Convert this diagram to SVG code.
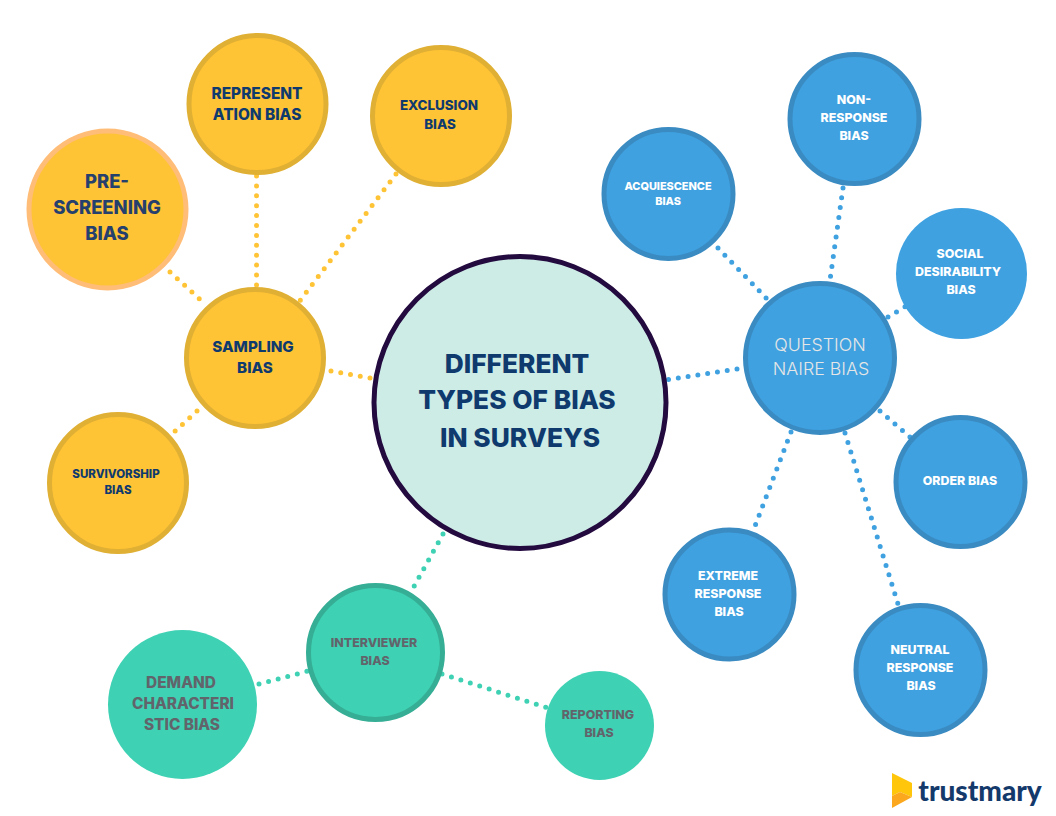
<svg xmlns="http://www.w3.org/2000/svg" width="1056" height="816" viewBox="0 0 1056 816">
<style>
text{font-family:Inter,"Liberation Sans",sans-serif;font-weight:800;text-anchor:middle}
.c{fill:none;stroke-width:5;stroke-linecap:round;stroke-dasharray:0 9.9}
.y{stroke:#FFC336}.b{stroke:#3FA1E0}.g{stroke:#3FD1B3}
.yn{fill:#FFC336;stroke:#E0B034;stroke-width:5}
.bn{fill:#3FA1E0;stroke:#3A8BC2;stroke-width:5}
.gn{fill:#3FD1B3;stroke:#35AE95;stroke-width:5}
.n{fill:#0F3A6E}.w{fill:#fff}.d{fill:#62646B}
</style>
<rect width="1056" height="816" fill="#fff"/>
<g id="connectors">
<path class="c y" d="M331 371L376 379"/>
<path class="c y" d="M256.500 176V290"/>
<path class="c y" d="M396 174L299 302"/>
<path class="c y" d="M170 272L205 304"/>
<path class="c y" d="M197 411L172 434"/>
<path class="c b" d="M737 369L666 380"/>
<path class="c b" d="M718 248L770 302"/>
<path class="c b" d="M843 188L830 280"/>
<path class="c b" d="M888 317L908 305"/>
<path class="c b" d="M880 411L910 437"/>
<path class="c b" d="M791 432L755 526"/>
<path class="c b" d="M845 433L898 604"/>
<path class="c g" d="M443 534L412 590"/>
<path class="c g" d="M259 684L312 670"/>
<path class="c g" d="M442 674L548 708"/>
</g>
<g id="center"><circle cx="520" cy="402.500" r="146" fill="#CDECE6" stroke="#230A3F" stroke-width="5"/>
<text class="n" font-size="26.300" x="517" y="373">DIFFERENT</text><text class="n" font-size="26.300" x="517" y="409">TYPES OF BIAS</text><text class="n" font-size="26.300" x="520" y="447">IN SURVEYS</text></g>
<g id="sampling"><circle class="yn" cx="255" cy="358" r="68.500"/><text class="n" font-size="15.200" x="253" y="352">SAMPLING</text><text class="n" font-size="15.200" x="255" y="373">BIAS</text></g>
<g id="prescreening"><circle cx="107.500" cy="209.500" r="78.500" fill="#FFC336" stroke="#FFBD78" stroke-width="5"/><text font-size="18.400" fill="#26406E" x="107" y="188">PRE-</text><text font-size="18.400" fill="#26406E" x="107" y="214">SCREENING</text><text font-size="18.400" fill="#26406E" x="107" y="240">BIAS</text></g>
<g id="representation"><circle class="yn" cx="257.500" cy="104" r="68.500"/><text class="n" font-size="15.400" x="257" y="99">REPRESENT</text><text class="n" font-size="15.400" x="257" y="120">ATION BIAS</text></g>
<g id="exclusion"><circle class="yn" cx="441" cy="116" r="68.500"/><text class="n" font-size="13.400" x="439" y="110">EXCLUSION</text><text class="n" font-size="13.400" x="440" y="129">BIAS</text></g>
<g id="survivorship"><circle class="yn" cx="118" cy="483" r="68.500"/><text class="n" font-size="11.500" x="116" y="478">SURVIVORSHIP</text><text class="n" font-size="11.500" x="118" y="494">BIAS</text></g>
<g id="questionnaire"><circle class="bn" cx="820" cy="358" r="74.500"/><text font-size="17.800" fill="#E6E6E6" style="font-weight:300" x="820" y="351">QUESTION</text><text font-size="17.800" fill="#E6E6E6" style="font-weight:300" x="821" y="375">NAIRE BIAS</text></g>
<g id="acquiescence"><circle class="bn" cx="668.500" cy="194" r="64.500"/><text class="w" font-size="10.900" x="668" y="190">ACQUIESCENCE</text><text class="w" font-size="10.900" x="668" y="205">BIAS</text></g>
<g id="nonresponse"><circle class="bn" cx="854.500" cy="119" r="64.500"/><text class="w" font-size="12.400" x="854" y="104">NON-</text><text class="w" font-size="12.400" x="854" y="122">RESPONSE</text><text class="w" font-size="12.400" x="854" y="140">BIAS</text></g>
<g id="social"><circle cx="961.500" cy="273.500" r="65.500" fill="#3FA1E0"/><text class="w" font-size="12.400" x="960" y="258">SOCIAL</text><text class="w" font-size="12.400" x="958" y="276">DESIRABILITY</text><text class="w" font-size="12.400" x="961" y="294">BIAS</text></g>
<g id="order"><circle class="bn" cx="960.500" cy="482" r="64.500"/><text class="w" font-size="12.400" x="960" y="485">ORDER BIAS</text></g>
<g id="extreme"><circle class="bn" cx="729.500" cy="594.500" r="64.500"/><text class="w" font-size="12.400" x="728" y="580">EXTREME</text><text class="w" font-size="12.400" x="728" y="598">RESPONSE</text><text class="w" font-size="12.400" x="729" y="616">BIAS</text></g>
<g id="neutral"><circle class="bn" cx="920.500" cy="670" r="64.500"/><text class="w" font-size="12.400" x="920" y="654">NEUTRAL</text><text class="w" font-size="12.400" x="920" y="672">RESPONSE</text><text class="w" font-size="12.400" x="921" y="690">BIAS</text></g>
<g id="interviewer"><circle class="gn" cx="375.500" cy="652.500" r="67"/><text class="d" font-size="12.400" x="374" y="647">INTERVIEWER</text><text class="d" font-size="12.400" x="375" y="665">BIAS</text></g>
<g id="demand"><circle cx="182.500" cy="704.500" r="74.500" fill="#3FD1B3"/><text class="d" font-size="15.400" x="181" y="688">DEMAND</text><text class="d" font-size="15.400" x="183" y="709">CHARACTERI</text><text class="d" font-size="15.400" x="182" y="730">STIC BIAS</text></g>
<g id="reporting"><circle cx="599.500" cy="725.500" r="54.500" fill="#3FD1B3"/><text class="d" font-size="12.400" x="598" y="719">REPORTING</text><text class="d" font-size="12.400" x="599" y="737">BIAS</text></g>
<g id="logo"><path d="M892 773L912 783V797L900 792L892 796Z" fill="#FFC60B"/><path d="M892 808V796L900 792L912 797Z" fill="#FBA81F"/><text font-size="28" x="980" y="801" fill="#14396B" style="font-family:Lato,sans-serif;font-weight:900">trustmary</text></g>
</svg>
